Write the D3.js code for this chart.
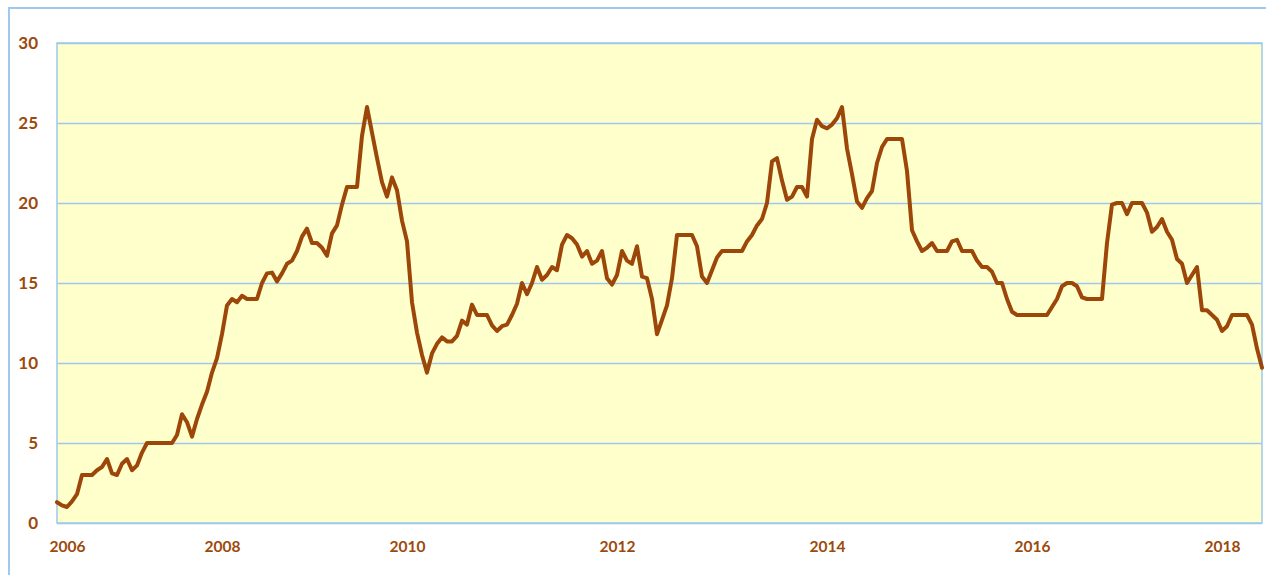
<!DOCTYPE html>
<html lang="en">
<head>
    <meta charset="UTF-8">
    <title>Chart</title>
    <script src="https://d3js.org/d3.v7.min.js"></script>
    <style>
        body {
            margin: 0;
            background: #fff;
        }
        svg text {
            font-family: Lato, "Open Sans", sans-serif;
            font-weight: bold;
            fill: #9c4a0c;
        }
    </style>
</head>
<body>
    <div id="chart"></div>

    <script>
        const values = [
            1.3, 1.1, 1.0, 1.35, 1.8, 3.0, 3.0, 3.0, 3.3, 3.5,
            4.0, 3.1, 3.0, 3.7, 4.0, 3.3, 3.6, 4.4, 5.0, 5.0,
            5.0, 5.0, 5.0, 5.0, 5.5, 6.8, 6.3, 5.4, 6.5, 7.4,
            8.2, 9.4, 10.3, 11.8, 13.6, 14.0, 13.8, 14.2, 14.0, 14.0,
            14.0, 15.0, 15.6, 15.65, 15.1, 15.6, 16.2, 16.4, 17.0, 17.9,
            18.4, 17.5, 17.5, 17.2, 16.7, 18.1, 18.6, 19.9, 21.0, 21.0,
            21.0, 24.2, 26.0, 24.4, 22.8, 21.3, 20.4, 21.6, 20.8, 18.9,
            17.6, 13.8, 11.9, 10.5, 9.4, 10.6, 11.2, 11.6, 11.35, 11.35,
            11.7, 12.65, 12.4, 13.65, 13.0, 13.0, 13.0, 12.35, 12.0, 12.3,
            12.4, 13.0, 13.7, 15.0, 14.3, 15.0, 16.0, 15.2, 15.5, 16.0,
            15.8, 17.4, 18.0, 17.8, 17.4, 16.65, 17.0, 16.2, 16.4, 17.0,
            15.3, 14.9, 15.5, 17.0, 16.4, 16.2, 17.3, 15.4, 15.3, 14.0,
            11.8, 12.7, 13.6, 15.3, 18.0, 18.0, 18.0, 18.0, 17.3, 15.4,
            15.0, 15.8, 16.6, 17.0, 17.0, 17.0, 17.0, 17.0, 17.6, 18.0,
            18.6, 19.0, 20.0, 22.6, 22.8, 21.4, 20.2, 20.4, 21.0, 21.0,
            20.4, 24.0, 25.2, 24.8, 24.67, 24.9, 25.3, 26.0, 23.4, 21.8,
            20.1, 19.7, 20.3, 20.75, 22.5, 23.5, 24.0, 24.0, 24.0, 24.0,
            22.0, 18.3, 17.6, 17.0, 17.2, 17.5, 17.0, 17.0, 17.0, 17.6,
            17.7, 17.0, 17.0, 17.0, 16.4, 16.0, 16.0, 15.7, 15.0, 15.0,
            14.0, 13.2, 13.0, 13.0, 13.0, 13.0, 13.0, 13.0, 13.0, 13.5,
            14.0, 14.8, 15.0, 15.0, 14.8, 14.1, 14.0, 14.0, 14.0, 14.0,
            17.5, 19.9, 20.0, 20.0, 19.3, 20.0, 20.0, 20.0, 19.4, 18.2,
            18.5, 19.0, 18.2, 17.7, 16.5, 16.2, 15.0, 15.5, 16.0, 13.3,
            13.3, 13.0, 12.7, 12.0, 12.3, 13.0, 13.0, 13.0, 13.0, 12.4,
            10.9, 9.7
        ];

        // category labels: the year shows at the first observation of that year
        const tickYears = ['2006', '2008', '2010', '2012', '2014', '2016', '2018'];
        const tickIndex = [2, 33, 70, 112, 154, 195, 233];
        const yTicks = [0, 5, 10, 15, 20, 25, 30];

        const width = 1266, height = 575;
        const plot = { left: 57, top: 43, right: 1262, bottom: 523 };
        const blue = '#9ec8ee';

        const svg = d3.select('#chart').append('svg')
            .attr('width', width)
            .attr('height', height);

        // outer chart frame
        svg.append('rect')
            .attr('x', 9).attr('y', 8)
            .attr('width', width + 20).attr('height', height + 20)
            .attr('fill', '#fff')
            .attr('stroke', blue)
            .attr('stroke-width', 2);

        const x = d3.scaleLinear()
            .domain([0, values.length - 1])
            .range([plot.left, plot.right]);

        const y = d3.scaleLinear()
            .domain([0, 30])
            .range([plot.bottom, plot.top]);

        // plot area
        svg.append('rect')
            .attr('x', plot.left).attr('y', plot.top)
            .attr('width', plot.right - plot.left)
            .attr('height', plot.bottom - plot.top)
            .attr('fill', '#ffffcc');

        // gridlines + y labels
        const yAxis = svg.append('g')
            .attr('transform', `translate(${plot.left},0)`)
            .call(d3.axisLeft(y)
                .tickValues(yTicks)
                .tickSize(-(plot.right - plot.left))
                .tickPadding(19));
        yAxis.select('.domain').remove();
        yAxis.selectAll('line')
            .attr('stroke', blue)
            .attr('stroke-width', 1.3);
        yAxis.selectAll('text').attr('font-size', 17);

        // plot border
        svg.append('rect')
            .attr('x', plot.left).attr('y', plot.top)
            .attr('width', plot.right - plot.left)
            .attr('height', plot.bottom - plot.top)
            .attr('fill', 'none')
            .attr('stroke', blue)
            .attr('stroke-width', 1.5);

        // x labels
        const xAxis = svg.append('g')
            .attr('transform', `translate(0,${plot.bottom})`)
            .call(d3.axisBottom(x)
                .tickValues(tickIndex)
                .tickFormat((d, i) => tickYears[i])
                .tickSize(0)
                .tickPadding(18));
        xAxis.select('.domain').remove();
        xAxis.selectAll('text').attr('font-size', 15.5);

        const line = d3.line()
            .x((d, i) => x(i))
            .y(d => y(d));

        svg.append('path')
            .datum(values)
            .attr('d', line)
            .attr('fill', 'none')
            .attr('stroke', '#9c4709')
            .attr('stroke-width', 4)
            .attr('stroke-linejoin', 'round')
            .attr('stroke-linecap', 'round');
    </script>
</body>
</html>
